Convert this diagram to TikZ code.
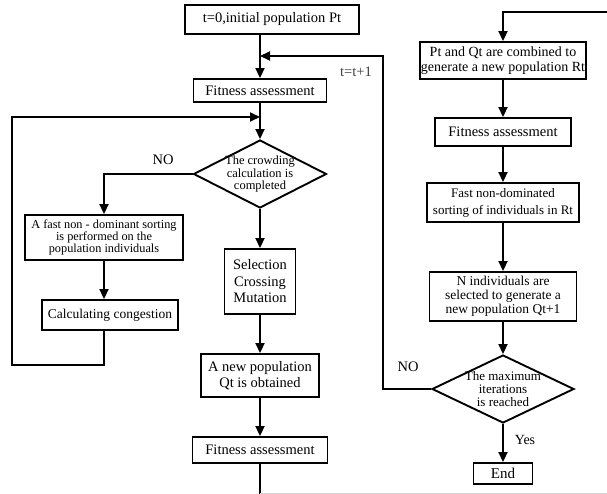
\documentclass[tikz,border=0pt]{standalone}
\usepackage{fontspec}
\setmainfont{Liberation Serif}
\usetikzlibrary{shapes.geometric,arrows.meta}
\newcommand\fsz[2]{\fontsize{#1}{#2}\selectfont}
\begin{document}
\begin{tikzpicture}[x=1pt,y=-1pt,
  box/.style={draw, line width=1.9pt, inner sep=0pt, align=center},
  dia/.style={draw, diamond, line width=1.9pt, inner sep=0pt},
  txt/.style={inner sep=0pt, align=center},
  ln/.style={line width=1.9pt},
  arr/.style={line width=1.9pt, -{Triangle[length=10pt,width=9pt]}}]
\useasboundingbox (0,0) rectangle (607,494);

% left / middle column
\node[box, minimum width=174, minimum height=29, font=\fsz{14.5}{16}] (init) at (272,19.5) {t=0,initial population Pt};
\node[box, minimum width=133, minimum height=23, font=\fsz{14.5}{16}] (fa1) at (260,90.5) {Fitness assessment};
\node[dia, minimum width=133, minimum height=68] (d1) at (260,174) {};
\node[txt, font=\fsz{12.5}{12.5}] (d1t) at (d1) {The crowding\\calculation is\\completed};
\node[box, minimum width=158, minimum height=45, font=\fsz{12.3}{10.5}] (nds) at (104,237.5) {A fast non - dominant sorting\\is performed on the\\population individuals};
\node[box, minimum width=136, minimum height=30, font=\fsz{13.5}{15}] (cc) at (110,315) {Calculating congestion};
\node[box, minimum width=71, minimum height=65, font=\fsz{14.5}{16.5}] (sel) at (260,281.5) {Selection\\Crossing\\Mutation};
\node[box, minimum width=118, minimum height=43, font=\fsz{14.5}{16}] (newq) at (260,375.5) {A new population\\Qt is obtained};
\node[box, minimum width=135, minimum height=26, font=\fsz{14.5}{16}] (fa2) at (260,450) {Fitness assessment};

% right column
\node[box, minimum width=166, minimum height=37, font=\fsz{14}{15}] (pq) at (503,60.5) {Pt and Qt are combined to\\generate a new population Rt};
\node[box, minimum width=136, minimum height=28, font=\fsz{14.5}{16}] (fa3) at (503,132) {Fitness assessment};
\node[box, minimum width=152, minimum height=39, font=\fsz{13}{17}] (fnd) at (503,202.5) {Fast non-dominated\\sorting of individuals in Rt};
\node[box, minimum width=147, minimum height=49, font=\fsz{13.5}{14}] (nind) at (503,296.5) {N individuals are\\selected to generate a\\new population Qt+1};
\node[dia, minimum width=142, minimum height=68] (d2) at (503,389) {};
\node[txt, font=\fsz{13}{13}] (d2t) at (d2) {The maximum\\iterations\\is reached};
\node[box, minimum width=59, minimum height=21, font=\fsz{15}{16}] (end) at (503,473.5) {End};

% labels
\node[txt, font=\fsz{14.5}{16}] (no1) at (163,160) {NO};
\node[txt, font=\fsz{14.5}{16}, text=black!75] (tinc) at (356,72) {t=t+1};
\node[txt, font=\fsz{14.5}{16}] (no2) at (408,367) {NO};
\node[txt, font=\fsz{14}{16}] (yes) at (525,440) {Yes};

% junction and edge points
\coordinate (m1) at (260,56);
\coordinate (m2) at (260,117);
\coordinate (rl) at (383,56);
\coordinate (ll) at (12,365);
\coordinate (tr) at (607,12);
\coordinate (bot) at (260,494);
\coordinate (br) at (607,493.5);

% connectors
\draw[arr] (init.south -| fa1.north) -- (fa1.north);
\draw[arr] (fa1.south) -- (d1.north);
\draw[arr] (d1.west) -| (nds.north);
\draw[arr] (nds.south) -- (nds.south |- cc.north);
\draw[arr] (cc.south -| nds.south) -- (nds.south |- ll) -- (ll) -- (ll |- m2) -- (m2);
\draw[arr] (d1.south) -- (sel.north);
\draw[arr] (sel.south) -- (newq.north);
\draw[arr] (newq.south) -- (fa2.north);
\draw[ln] (fa2.south) -- (bot);
\draw[gray!35, line width=1pt] (bot |- br) -- (br);

\draw[arr] (tr) -| (pq.north);
\draw[arr] (pq.south) -- (fa3.north);
\draw[arr] (fa3.south) -- (fnd.north);
\draw[arr] (fnd.south) -- (nind.north);
\draw[arr] (nind.south) -- (d2.north);
\draw[arr] (d2.south) -- (end.north);
\draw[arr] (d2.west) -| (rl) -- (m1);
\end{tikzpicture}
\end{document}
